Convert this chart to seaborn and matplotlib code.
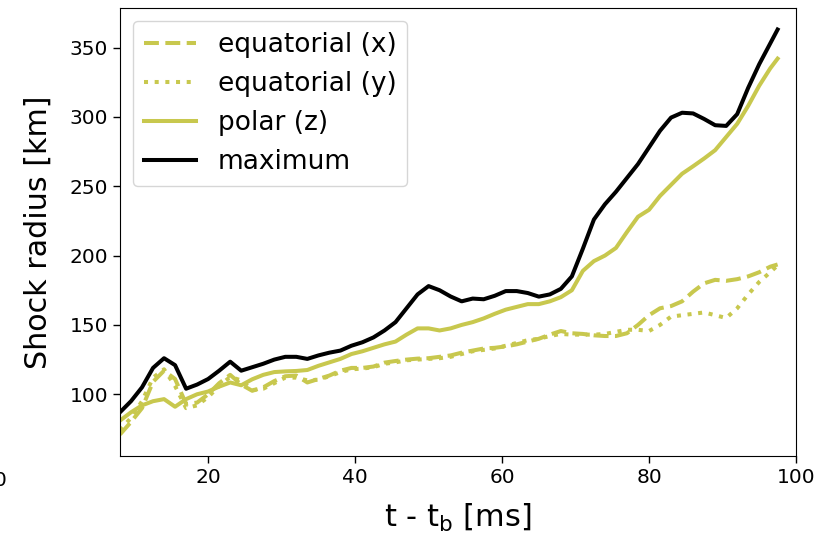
import numpy as np
import pandas as pd
import seaborn as sns
import matplotlib
matplotlib.use("Agg")
import matplotlib.pyplot as plt

# time after bounce [ms]
t_ms = [8, 9.5, 11, 12.5, 14, 15.5, 17, 18.5, 20, 21.5, 23, 24.5, 26, 27.5, 29, 30.5,
        32, 33.5, 35, 36.5, 38, 39.5, 41, 42.5, 44, 45.5, 47, 48.5, 50, 51.5, 53, 54.5,
        56, 57.5, 59, 60.5, 62, 63.5, 65, 66.5, 68, 69.5, 71, 72.5, 74, 75.5, 77, 78.5,
        80, 81.5, 83, 84.5, 86, 87.5, 89, 90.5, 92, 93.5, 95, 96.5, 97.5]

# shock radius [km]
r_eq_x = [71, 80, 90, 109, 117, 111, 93, 94, 100, 108, 114, 107, 102.5, 105, 109.5, 113,
          113.5, 108.5, 111, 113.5, 117, 119, 119, 120, 122.8, 124, 125, 125.7, 126, 127, 128, 130,
          131.5, 133, 133.5, 134.5, 136, 138, 140, 143, 145.6, 144, 143.5, 142.5, 142, 142, 144, 150,
          157, 162, 163.6, 167, 174, 180, 182.5, 181.8, 183, 185, 188, 192, 193.6]
r_eq_y = [74, 83, 95, 112, 118, 106, 90, 92, 98, 106, 112.5, 110, 103, 104, 108, 112,
          112, 110, 110.5, 113, 116, 118, 118.5, 119.5, 122, 123, 124.5, 125, 125.5, 126, 127, 129,
          131, 132, 133, 135, 137, 139, 140, 142, 143.5, 143, 143, 143, 143.5, 145, 146.5, 146.5,
          145.6, 150, 156, 157, 158, 159, 157, 155, 162, 172, 181, 188, 193]
r_polar = [81, 87, 92, 95, 96.5, 91, 96.5, 100, 102, 105.5, 108.5, 106.5, 110.8, 114, 116, 116.5,
           116.8, 117.5, 120.5, 123, 125.5, 129, 131, 133.5, 136, 138, 143, 147.5, 147.5, 146, 147.5, 150,
           152, 154.7, 158, 161, 163, 165, 165, 167, 170, 175, 189, 196, 200, 205.5, 217, 228,
           233, 243, 251, 259, 264.4, 270, 276, 285.5, 295, 308, 322.5, 335, 342]
r_max = [87, 95, 105, 119, 126, 121, 104, 107, 111, 117, 123.5, 117, 119.5, 122, 125, 127,
         127, 125.5, 128, 130, 131.5, 135, 137.5, 141, 146, 152, 162, 172, 178, 175, 170.5, 167,
         169, 168.5, 171, 174.4, 174.4, 173, 170.4, 172, 176, 185, 205, 226, 237, 246, 256, 266,
         278, 290, 299.5, 303, 302.5, 298.5, 294, 293.5, 302, 321, 338, 353, 363]

olive = "#c8c84e"
lw = 2.9

df = pd.DataFrame({"t": t_ms, "eqx": r_eq_x, "eqy": r_eq_y, "pol": r_polar, "max": r_max})

fig = plt.figure(figsize=(8.2, 5.35), dpi=100)
ax = fig.add_axes([0.1463, 0.1477, 0.8244, 0.8373])

sns.lineplot(data=df, x="t", y="eqx", ax=ax, color=olive, lw=lw, ls="--", label="equatorial (x)")
sns.lineplot(data=df, x="t", y="eqy", ax=ax, color=olive, lw=lw, ls=":", label="equatorial (y)")
sns.lineplot(data=df, x="t", y="pol", ax=ax, color=olive, lw=lw, ls="-", label="polar (z)")
sns.lineplot(data=df, x="t", y="max", ax=ax, color="black", lw=lw, ls="-", label="maximum")

ax.set_xlim(8, 100)
ax.set_ylim(55.5, 378.5)
ax.set_xticks([20, 40, 60, 80, 100])
ax.set_yticks([100, 150, 200, 250, 300, 350])
ax.tick_params(labelsize=14.5, length=5, width=1)
ax.set_xlabel(r"t - t$_\mathrm{b}$ [ms]", fontsize=22, labelpad=11)
ax.set_ylabel("Shock radius [km]", fontsize=21.7, labelpad=12)
ax.legend(loc="upper left", fontsize=19)

# stray tick label from a neighbouring panel, cut by the crop
fig.text(0.0, 0.101, "0", fontsize=14.5, ha="center", va="center")

fig.savefig("out.png", dpi=100)
